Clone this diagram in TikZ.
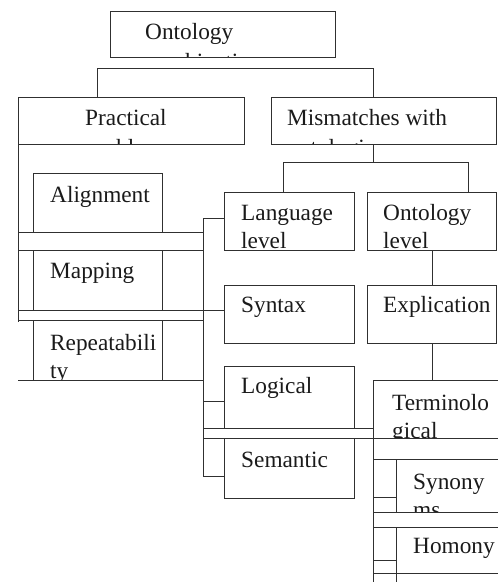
\documentclass[tikz,border=0pt]{standalone}
\usepackage{fontspec}
\setmainfont{Liberation Serif}
\usetikzlibrary{backgrounds}
\definecolor{linec}{HTML}{303030}
\definecolor{txtc}{HTML}{1A1A1A}
\newcommand\fsz{\fontsize{23.3}{28}\selectfont}
\tikzset{
  box/.style={draw=linec, line width=0.9pt, inner sep=0pt, anchor=north west},
  lbl/.style={anchor=base west, inner sep=0pt, align=left, text=txtc, font=\fsz},
  ln/.style={draw=linec, line width=0.9pt}
}
\begin{document}
\begin{tikzpicture}[x=1pt,y=-1pt]
\useasboundingbox (0,0) rectangle (498,582);
% boxes
\node[box, minimum width=225pt, minimum height=46pt] (top)  at (110,11) {};
\node[box, minimum width=226pt, minimum height=47pt] (prac) at (18,97) {};
\node[box, minimum width=225pt, minimum height=47pt] (mism) at (271,97) {};
\node[box, minimum width=130pt, minimum height=58pt] (lang) at (224,192) {};
\node[box, minimum width=129pt, minimum height=58pt] (ontl) at (367,192) {};
\node[box, minimum width=130pt, minimum height=58pt] (synt) at (224,285) {};
\node[box, minimum width=129pt, minimum height=58pt] (expl) at (367,285) {};
\node[box, minimum width=130pt, minimum height=62pt] (logi) at (224,366) {};
\node[box, minimum width=130pt, minimum height=60pt] (sema) at (224,438) {};
\node[box, minimum width=150pt, minimum height=58pt] (term) at (373,380) {};
\node[box, minimum width=129pt, minimum height=59pt] (alig) at (33,173) {};
\node[box, minimum width=129pt, minimum height=60pt] (mapp) at (33,250) {};
\node[box, minimum width=129pt, minimum height=60pt] (rept) at (33,320) {};
% helper coordinates
\coordinate (c1) at (97,68);
\coordinate (c2) at (373,68);
\coordinate (m1) at (373,162);
\coordinate (m2) at (283,162);
\coordinate (m3) at (468,162);
\coordinate (v1) at (203,218);
\coordinate (v2) at (203,476);
\coordinate (v3) at (203,401);
\coordinate (lb) at (18,322);
\coordinate (bot) at (0,590);
\coordinate (rgt) at (510,0);
\coordinate (s1) at (373,459);
\coordinate (s2) at (373,512);
\coordinate (s3) at (373,527);
\coordinate (s4) at (373,573);
\coordinate (k1) at (396,497);
\coordinate (k2) at (396,560);
% connectors
\draw[ln] (c1 |- prac.north) -- (c1) -- (c2) -- (c2 |- mism.north);
\draw[ln] (mism.south -| m1) -- (m1);
\draw[ln] (m2 |- lang.north) -- (m2) -- (m3) -- (m3 |- ontl.north);
\draw[ln] (ontl.south) -- (expl.north);
\draw[ln] (expl.south) -- (expl.south |- term.north);
% left column lines
\draw[ln] (prac.south west) -- (lb);
\draw[ln] (alig.south -| prac.west) -- (alig.south -| v1);
\draw[ln] (mapp.north -| prac.west) -- (mapp.north -| v1);
\draw[ln] (mapp.south -| prac.west) -- (mapp.south -| synt.west);
\draw[ln] (rept.north -| prac.west) -- (rept.north -| v1);
\draw[ln] (rept.south -| prac.west) -- (rept.south -| v1);
\draw[ln] (lang.west |- v1) -- (v1) -- (v2) -- (v2 -| sema.west);
\draw[ln] (v3) -- (v3 -| logi.west);
\draw[ln] (logi.south -| v1) -- (logi.south -| term.west);
\draw[ln] (sema.north -| v1) -- (sema.north -| rgt);
% right column lines
\draw[ln] (term.south west) -- (term.west |- bot);
\draw[ln] (s1) -- (s1 -| rgt);
\draw[ln] (s2) -- (s2 -| rgt);
\draw[ln] (s3) -- (s3 -| rgt);
\draw[ln] (s4) -- (s4 -| rgt);
\draw[ln] (k1 |- s1) -- (k1 |- s2);
\draw[ln] (k1 |- s3) -- (k1 |- bot);
\draw[ln] (s1 |- k1) -- (k1);
\draw[ln] (s1 |- k2) -- (k2);
% texts, under the lines, clipped like the original
\begin{pgfonlayer}{background}
\begin{scope}\clip (top.north west) rectangle (top.south east);
\node[lbl] (ttop) at (145,69) {Ontology\\[2pt]combination};\end{scope}
\begin{scope}\clip (prac.north west) rectangle (prac.south east);
\node[lbl] (tprac) at (85,155) {Practical\\[2pt]problems};\end{scope}
\begin{scope}\clip (mism.north west) rectangle (mism.south east);
\node[lbl] (tmism) at (287,155) {Mismatches with\\[2pt]ontologies};\end{scope}
\node[lbl] (talig) at (50,202) {Alignment};
\node[lbl] (tmapp) at (50,278) {Mapping};
\begin{scope}\clip (rept.north west) rectangle (rept.south east);
\node[lbl] (trept) at (50,378) {Repeatabili\\ty};\end{scope}
\begin{scope}\clip (lang.north west) rectangle (lang.south east);
\node[lbl] (tlang) at (241,248) {Language\\level};\end{scope}
\begin{scope}\clip (ontl.north west) rectangle (ontl.south east);
\node[lbl] (tontl) at (383,248) {Ontology\\level};\end{scope}
\node[lbl] (tsynt) at (241,312) {Syntax};
\node[lbl] (texpl) at (383,312) {Explication};
\node[lbl] (tlogi) at (241,393) {Logical};
\node[lbl] (tsema) at (241,467) {Semantic};
\begin{scope}\clip (term.north west) rectangle (term.south east);
\node[lbl] (tterm) at (392,438) {Terminolo\\gical};\end{scope}
\begin{scope}\clip (k1 |- s1) rectangle (rgt |- s2);
\node[lbl] (tsyn) at (413,517) {Synony\\ms};\end{scope}
\node[lbl] (thom) at (413,553) {Homony};
\end{pgfonlayer}
\end{tikzpicture}
\end{document}
